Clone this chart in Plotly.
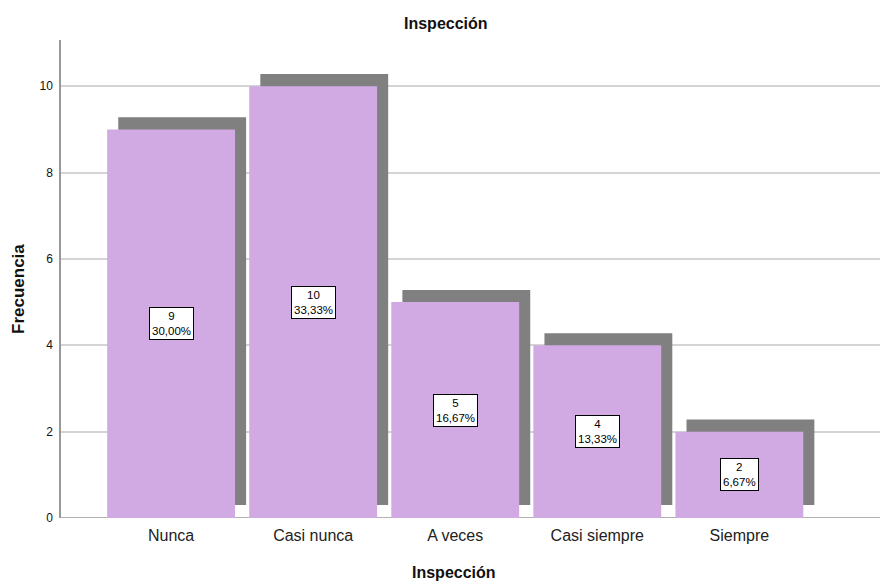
import plotly.graph_objects as go

categories = ["Nunca", "Casi nunca", "A veces", "Casi siempre", "Siempre"]
counts = [9, 10, 5, 4, 2]
percents = ["30,00%", "33,33%", "16,67%", "13,33%", "6,67%"]

bar_color = "#D1AAE4"
shadow_color = "#808080"
font_family = "Liberation Sans, Arial, sans-serif"

fig = go.Figure()
# shadow
fig.add_trace(go.Bar(
    x=categories, y=[c - 0.02 for c in counts], base=[0.3] * len(counts),
    width=0.9, offset=-0.45 + 0.078, marker=dict(color=shadow_color, line=dict(width=0)),
    hoverinfo="skip", showlegend=False))
# bars
fig.add_trace(go.Bar(
    x=categories, y=counts, width=0.9, offset=-0.45,
    marker=dict(color=bar_color, line=dict(width=0)), showlegend=False))

for cat, c, p in zip(categories, counts, percents):
    fig.add_annotation(x=cat, y=c / 2, text=f"{c}<br>{p}", showarrow=False,
                       font=dict(size=11.5, color="black", family=font_family),
                       bgcolor="white", bordercolor="black", borderwidth=1, borderpad=2)

# titles
fig.add_annotation(text="<b>Inspección</b>", xref="paper", yref="paper", x=(446 - 61) / 819,
                   y=1 + (40 - 24) / 478, xanchor="center", yanchor="middle", showarrow=False,
                   font=dict(size=16, family=font_family, color="#111"))
fig.add_annotation(text="<b>Inspección</b>", xref="paper", yref="paper", x=(454 - 61) / 819,
                   y=-(583 - 518) / 478, xanchor="center", yanchor="bottom", showarrow=False,
                   font=dict(size=16, family=font_family, color="#111"))
fig.add_annotation(text="<b>Frecuencia</b>", xref="paper", yref="paper", x=-(61 - 18) / 819,
                   y=(518 - 289) / 478, xanchor="center", yanchor="middle", showarrow=False,
                   textangle=-90, font=dict(size=17, family=font_family, color="#111"))

fig.update_layout(
    width=880, height=584, barmode="overlay",
    paper_bgcolor="white", plot_bgcolor="white",
    margin=dict(l=61, r=0, t=40, b=66, autoexpand=False),
    font=dict(family=font_family, color="black"),
    xaxis=dict(range=[-0.775, 4.99], showgrid=False, showline=False, ticks="",
               tickfont=dict(size=16, color="#222"), automargin=False, ticklabelstandoff=6),
    yaxis=dict(range=[0, 11.07], dtick=2, showgrid=True, gridcolor="#D4D4D4", gridwidth=1.5,
               showline=True, linecolor="#999", linewidth=1.5, ticks="",
               tickfont=dict(size=12, color="#111"), zeroline=False, automargin=False,
               ticklabelstandoff=4),
)
fig.add_shape(type="line", xref="paper", yref="y", x0=0, x1=1, y0=0, y1=0,
              line=dict(color="#999", width=1.5), layer="below")
fig.write_html("out.html", post_script="document.body.style.margin='0';",
               config={"displayModeBar": False})
